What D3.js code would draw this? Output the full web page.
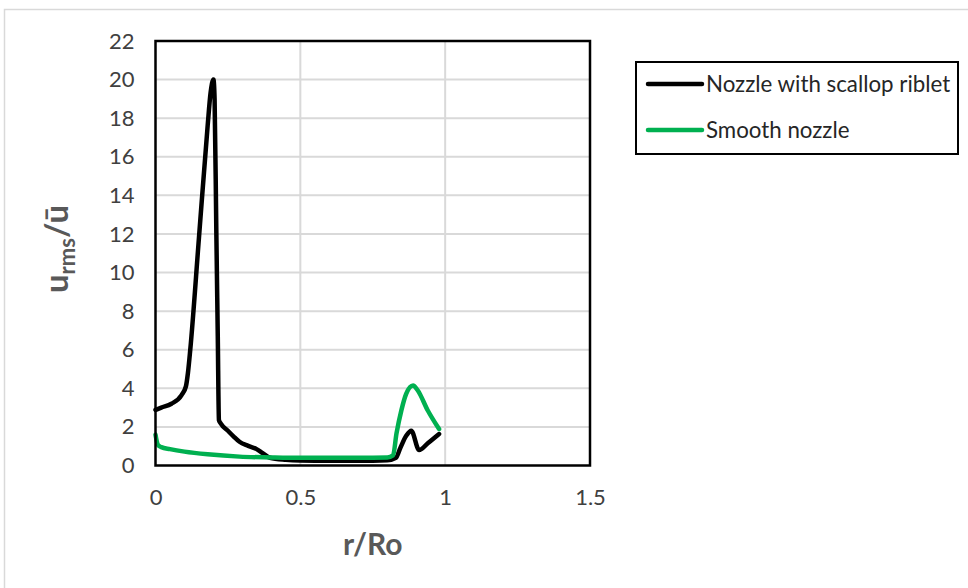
<!DOCTYPE html>
<html>
<head>
<meta charset="utf-8">
<script src="https://cdn.jsdelivr.net/npm/d3@7"></script>
<style>
  html, body { margin: 0; padding: 0; background: #fff; }
  svg { display: block; font-family: Lato, "Open Sans", sans-serif; }
</style>
</head>
<body>
<svg id="chart" width="968" height="588"></svg>
<script>
// Radial position r/Ro and turbulence intensity for each nozzle
const riblet_r = [0, 0.02, 0.055, 0.09, 0.105, 0.112, 0.12, 0.15, 0.18, 0.19, 0.2, 0.204, 0.21, 0.215, 0.219,
  0.225, 0.25, 0.27, 0.29, 0.32, 0.349, 0.37, 0.395, 0.45, 0.5, 0.6, 0.7, 0.8, 0.83, 0.845, 0.866, 0.883, 0.91, 0.94, 0.979];
const riblet_u = [2.88, 3.0, 3.2, 3.65, 4.1, 4.8, 6.0, 11.8, 17.6, 19.3, 20, 19.0, 12.1, 6.7, 2.35,
  2.18, 1.8, 1.5, 1.23, 1.02, 0.85, 0.64, 0.4, 0.3, 0.26, 0.24, 0.24, 0.27, 0.4, 0.9, 1.55, 1.8, 0.8, 1.15, 1.63];

const smooth_r = [0, 0.008, 0.02, 0.05, 0.1, 0.18, 0.29, 0.4, 0.5, 0.6, 0.7, 0.8, 0.82, 0.832, 0.849, 0.865, 0.889, 0.905, 0.94, 0.979];
const smooth_u = [1.6, 1.08, 0.95, 0.85, 0.72, 0.58, 0.46, 0.42, 0.4, 0.4, 0.4, 0.42, 0.52, 1.66, 2.87, 3.7, 4.15, 3.9, 2.85, 1.89];

const seriesNames = ["Nozzle with scallop riblet", "Smooth nozzle"];
const seriesColors = ["#000000", "#00b050"];

const xTicks = [0, 0.5, 1, 1.5];
const yTicks = [0, 2, 4, 6, 8, 10, 12, 14, 16, 18, 20, 22];

const series = [
  { name: seriesNames[0], color: seriesColors[0], pts: riblet_r.map((r, i) => [r, riblet_u[i]]) },
  { name: seriesNames[1], color: seriesColors[1], pts: smooth_r.map((r, i) => [r, smooth_u[i]]) }
];

const svg = d3.select("#chart");

// outer chart frame
svg.append("rect")
  .attr("x", 4.5).attr("y", 9.5).attr("width", 980).attr("height", 600)
  .attr("fill", "none").attr("stroke", "#d9d9d9").attr("stroke-width", 1.5);

const plot = { left: 155.5, right: 590, top: 41, bottom: 465.5 };

const x = d3.scaleLinear().domain([0, 1.5]).range([plot.left, plot.right]);
const y = d3.scaleLinear().domain([0, 22]).range([plot.bottom, plot.top]);

// gridlines
const grid = svg.append("g");
grid.selectAll("line.h").data(yTicks.filter(t => t > 0 && t < 22)).join("line")
  .attr("x1", plot.left).attr("x2", plot.right)
  .attr("y1", d => y(d)).attr("y2", d => y(d))
  .attr("stroke", "#d9d9d9").attr("stroke-width", 2);
grid.selectAll("line.v").data(xTicks.filter(t => t > 0 && t < 1.5)).join("line")
  .attr("y1", plot.top).attr("y2", plot.bottom)
  .attr("x1", d => x(d)).attr("x2", d => x(d))
  .attr("stroke", "#d9d9d9").attr("stroke-width", 2);

// axes (labels only; the frame is drawn as a box)
const xAxis = svg.append("g")
  .attr("transform", `translate(0,${plot.bottom + 16})`)
  .call(d3.axisBottom(x).tickValues(xTicks).tickSize(0).tickPadding(8).tickFormat(d3.format("")));
const yAxis = svg.append("g")
  .attr("transform", `translate(${plot.left - 21},0)`)
  .call(d3.axisLeft(y).tickValues(yTicks).tickSize(0).tickPadding(0).tickFormat(d3.format("")));
[xAxis, yAxis].forEach(a => {
  a.select(".domain").remove();
  a.selectAll("text").attr("fill", "#404040").style("font-size", "22px").style("font-family", "Lato, sans-serif");
});

// series lines
const line = d3.line().x(d => x(d[0])).y(d => y(d[1])).curve(d3.curveMonotoneX);
svg.append("g").selectAll("path").data(series).join("path")
  .attr("d", d => line(d.pts))
  .attr("fill", "none")
  .attr("stroke", d => d.color)
  .attr("stroke-width", 4.5)
  .attr("stroke-linejoin", "round")
  .attr("stroke-linecap", "round");

// plot frame
svg.append("rect")
  .attr("x", plot.left).attr("y", plot.top)
  .attr("width", plot.right - plot.left).attr("height", plot.bottom - plot.top)
  .attr("fill", "none").attr("stroke", "#000").attr("stroke-width", 2.5);

// axis titles
svg.append("text")
  .attr("x", (plot.left + plot.right) / 2).attr("y", 555)
  .attr("text-anchor", "middle")
  .attr("fill", "#595959").style("font-size", "30px").style("font-weight", "bold")
  .text("r/Ro");

const yt = svg.append("text")
  .attr("transform", "translate(68,249) rotate(-90)")
  .attr("text-anchor", "middle")
  .attr("fill", "#595959").style("font-size", "33px").style("font-weight", "bold");
yt.append("tspan").text("u");
yt.append("tspan").attr("dy", 7).style("font-size", "22px").text("rms");
yt.append("tspan").attr("dy", -7).text("/ū");

// legend
const lg = svg.append("g");
lg.append("rect")
  .attr("x", 636).attr("y", 62).attr("width", 322).attr("height", 92)
  .attr("fill", "#fff").attr("stroke", "#000").attr("stroke-width", 2);
const items = lg.selectAll("g.item").data(series).join("g")
  .attr("transform", (d, i) => `translate(0,${84 + i * 46})`);
items.append("line")
  .attr("x1", 648).attr("x2", 702).attr("y1", 0).attr("y2", 0)
  .attr("stroke", d => d.color).attr("stroke-width", 4.5).attr("stroke-linecap", "round");
items.append("text")
  .attr("x", 706).attr("y", 0).attr("dy", "0.35em")
  .attr("fill", "#262626").style("font-size", "22.3px")
  .text(d => d.name);
</script>
</body>
</html>
